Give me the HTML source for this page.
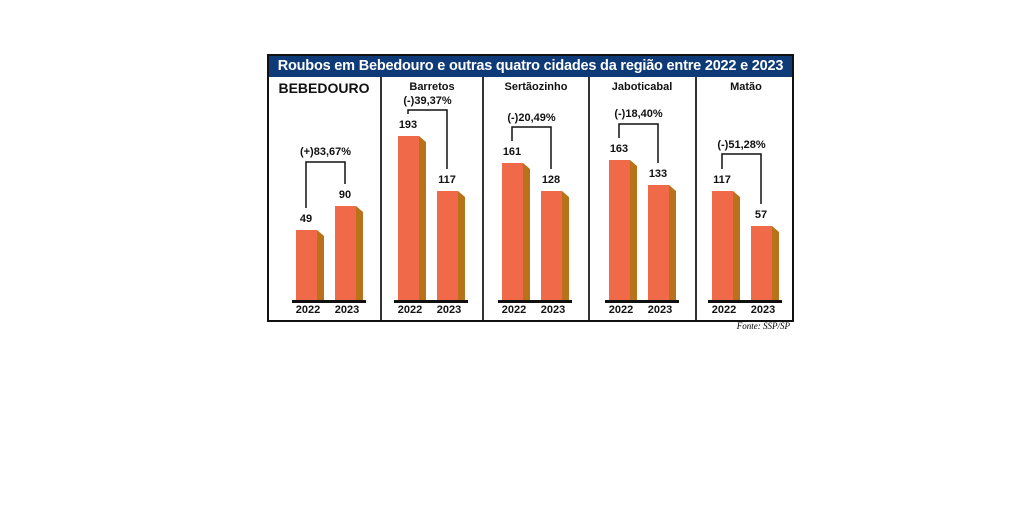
<!DOCTYPE html>
<html><head><style>
body{margin:0;width:1028px;height:523px;background:#fff;position:relative;overflow:hidden;font-family:"Liberation Sans",sans-serif}
.a{position:absolute}
.t{position:absolute;font-weight:bold;font-size:11px;color:#111;text-align:center;width:60px;margin-left:-30px}
</style></head><body>
<div class="a" style="left:267px;top:54px;width:523px;height:264px;border:2px solid #111"></div>
<div class="a" style="left:269px;top:56px;width:523px;height:21px;background:#0f3a78;color:#fff;font-size:14.5px;font-weight:bold;line-height:21px;text-align:center;letter-spacing:-0.2px">Roubos em Bebedouro e outras quatro cidades da região entre 2022 e 2023</div>
<div class="a" style="left:380px;top:77px;width:2px;height:243px;background:#333"></div>
<div class="a" style="left:482px;top:77px;width:2px;height:243px;background:#333"></div>
<div class="a" style="left:588px;top:77px;width:2px;height:243px;background:#333"></div>
<div class="a" style="left:695px;top:77px;width:2px;height:243px;background:#333"></div>
<svg class="a" style="left:0;top:0" width="1028" height="523">
<g id="g"></g>
</svg>
<div class="t" style="left:324px;top:80px;width:100px;margin-left:-50px;font-size:14px">BEBEDOURO</div>
<div class="t" style="left:432px;top:81px">Barretos</div>
<div class="t" style="left:536px;top:81px;width:80px;margin-left:-40px">Sertãozinho</div>
<div class="t" style="left:642px;top:81px;width:80px;margin-left:-40px">Jaboticabal</div>
<div class="t" style="left:746px;top:81px">Matão</div>
<div class="a" style="left:730px;top:321px;width:60px;text-align:right;font-family:'Liberation Serif',serif;font-style:italic;font-size:9px">Fonte: SSP/SP</div>
<div id="txt"></div>
<script>
var P=[
[296,230,49,335,206,90,'(+)83,67%',162,152],
[398,136,193,437,191,117,'(-)39,37%',110,101],
[502,163,161,541,191,128,'(-)20,49%',127,118],
[609,160,163,648,185,133,'(-)18,40%',124,114],
[712,191,117,751,226,57,'(-)51,28%',154,145]];
var s='',h='';
function bar(x,y){return '<rect x="'+x+'" y="'+y+'" width="21" height="'+(301-y)+'" fill="#f06a4a"/><polygon points="'+(x+21)+','+y+' '+(x+28)+','+(y+6)+' '+(x+28)+',301 '+(x+21)+',301" fill="#b8731a"/>';}
P.forEach(function(p){
s+=bar(p[0],p[1])+bar(p[3],p[4]);
s+='<rect x="'+(p[0]-4)+'" y="300" width="74" height="3" fill="#111"/>';
var lx=p[0]+10,rx=p[3]+10;
s+='<polyline points="'+lx+','+(p[1]-22)+' '+lx+','+p[7]+' '+rx+','+p[7]+' '+rx+','+(p[4]-22)+'" fill="none" stroke="#111" stroke-width="1.5"/>';
h+='<div class="t" style="left:'+(p[0]+10)+'px;top:'+(p[1]-17)+'px">'+p[2]+'</div>';
h+='<div class="t" style="left:'+(p[3]+10)+'px;top:'+(p[4]-17)+'px">'+p[5]+'</div>';
h+='<div class="t" style="left:'+(lx+rx)/2+'px;top:'+(p[8]-6)+'px;width:80px;margin-left:-40px">'+p[6]+'</div>';
h+='<div class="t" style="left:'+(p[0]+12)+'px;top:304px">2022</div>';
h+='<div class="t" style="left:'+(p[3]+12)+'px;top:304px">2023</div>';
});
document.getElementById('g').innerHTML=s;
document.getElementById('txt').innerHTML=h;
</script>
</body></html>
